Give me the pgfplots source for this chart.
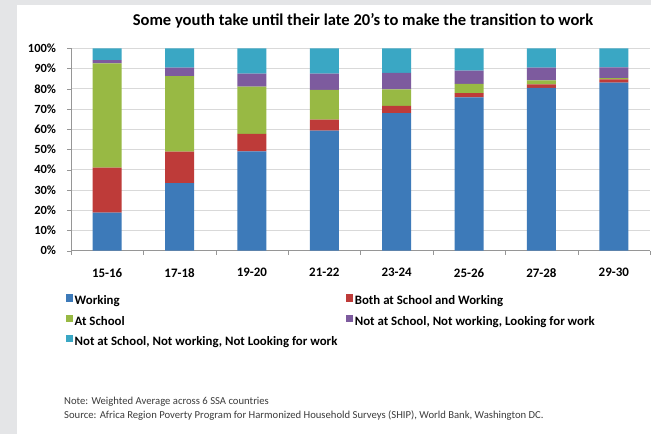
\documentclass[border=0pt]{standalone}
\usepackage{fontspec}
\setmainfont{Carlito}
\usepackage{pgfplots}
\pgfplotsset{compat=1.18}
\definecolor{cWork}{RGB}{61,122,185}
\definecolor{cBoth}{RGB}{190,59,57}
\definecolor{cSchool}{RGB}{152,185,68}
\definecolor{cLook}{RGB}{125,91,158}
\definecolor{cNot}{RGB}{58,167,196}
\definecolor{bgGray}{RGB}{228,229,231}
\definecolor{gridGray}{RGB}{217,217,217}
\definecolor{axGray}{RGB}{150,150,150}
\definecolor{noteGray}{RGB}{60,60,60}

\begin{document}
\begin{tikzpicture}
\useasboundingbox (0bp,0bp) rectangle (651bp,434bp);
\fill[bgGray] (0bp,0bp) rectangle (651bp,434bp);
\fill[white] (17bp,0bp) rectangle (651bp,429bp);
\node[font=\bfseries\fontsize{16.6}{19}\selectfont] at (363bp,413bp)
  {Some youth take until their late 20’s to make the transition to work};
\begin{axis}[
    at={(71bp,183.3bp)}, anchor=south west,
    scale only axis, width=579bp, height=202.4bp,
    ybar stacked, bar width=29bp,
    xmin=-0.5, xmax=7.5, ymin=0, ymax=100,
    axis x line*=bottom, axis y line*=left,
    axis line style={axGray,-},
    xtick={0,...,7},
    xticklabels={15-16,17-18,19-20,21-22,23-24,25-26,27-28,29-30},
    minor xtick={-0.5,0.5,...,7.5},
    major x tick style={draw=none},
    minor x tick style={axGray},
    y tick style={axGray},
    tick align=outside,
    major tick length=3.5bp, minor tick length=4bp,
    ytick={0,10,...,100},
    yticklabel={\pgfmathprintnumber{\tick}\%},
    /pgf/number format/assume math mode=true,
    x tick label style={font=\bfseries\fontsize{13}{15}\selectfont, yshift=-10.5bp},
    y tick label style={font=\bfseries\fontsize{12.5}{15}\selectfont, xshift=-8bp},
    ymajorgrids, grid style={gridGray, line width=0.8bp},
    legend style={at={(-0.0086,-0.214)}, anchor=north west, draw=none, fill=none,
      inner sep=0pt, font=\bfseries\fontsize{12.9}{15}\selectfont,
      nodes={inner xsep=1.5bp, inner ysep=0bp, text height=9bp, text depth=2.5bp},
      /tikz/every even column/.append style={column sep=7.5bp},
      row sep=7.1bp},
    legend columns=2, legend cell align=left,
    legend image code/.code={\fill[#1] (0bp,0bp) rectangle (7bp,7.5bp);},
]
\addplot[fill=cWork, draw=none] coordinates
  {(0,18.8) (1,33.4) (2,49.1) (3,59.3) (4,68.0) (5,75.8) (6,80.4) (7,83.0)};
\addlegendentry{Working}
\addplot[fill=cBoth, draw=none] coordinates
  {(0,22.2) (1,15.5) (2,8.6) (3,5.4) (4,3.5) (5,2.1) (6,1.8) (7,1.7)};
\addlegendentry{Both at School and Working}
\addplot[fill=cSchool, draw=none] coordinates
  {(0,51.6) (1,37.3) (2,23.4) (3,14.7) (4,8.2) (5,4.5) (6,2.0) (7,0.6)};
\addlegendentry{At School}
\addplot[fill=cLook, draw=none] coordinates
  {(0,1.5) (1,4.2) (2,6.4) (3,8.1) (4,8.1) (5,6.6) (6,6.2) (7,5.3)};
\addlegendentry{Not at School, Not working, Looking for work}
\addplot[fill=cNot, draw=none] coordinates
  {(0,5.9) (1,9.6) (2,12.5) (3,12.5) (4,12.2) (5,11.0) (6,9.6) (7,9.4)};
\addlegendentry{Not at School, Not working, Not Looking for work}
\end{axis}
\node[anchor=base west, font=\fontsize{10.7}{12}\selectfont, text=noteGray, inner sep=0pt]
  at (64bp,29.8bp) {Note: Weighted Average across 6 SSA countries};
\node[anchor=base west, font=\fontsize{10.7}{12}\selectfont, text=noteGray, inner sep=0pt]
  at (64bp,15.5bp) {Source: Africa Region Poverty Program for Harmonized Household Surveys (SHIP), World Bank, Washington DC.};
\end{tikzpicture}
\end{document}
